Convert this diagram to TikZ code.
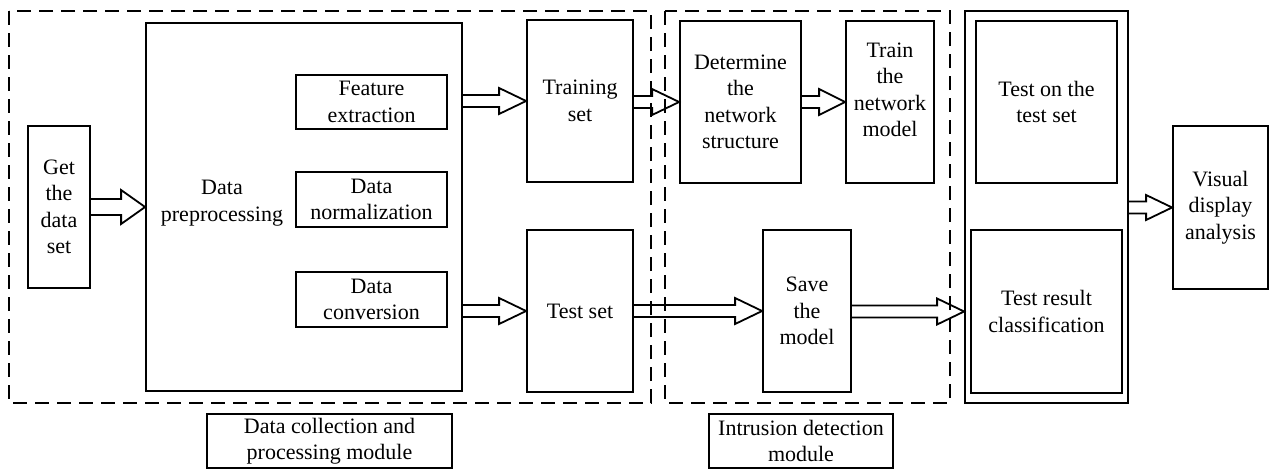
\documentclass[tikz,border=0pt]{standalone}
\usepackage{fontspec}
\setmainfont{Liberation Serif}
\usetikzlibrary{calc}
\tikzset{
  box/.style={draw, line width=1.8pt, inner sep=0pt, align=center, font=\fontsize{22}{26.5}\selectfont},
  txt/.style={inner sep=0pt, align=center, font=\fontsize{22}{26.5}\selectfont},
  dashbox/.style={draw, line width=1.6pt, dash pattern=on 14pt off 8pt},
  arrowline/.style={draw, line width=1.8pt, line join=miter},
}
\newcommand{\blockarrow}[5]{%
  \draw[arrowline] let \p1=(#1), \p2=(#2) in
    (\x1,\y2+#3) -- (\x2-#5,\y2+#3) -- (\x2-#5,\y2+#4) -- (\x2,\y2)
    -- (\x2-#5,\y2-#4) -- (\x2-#5,\y2-#3) -- (\x1,\y2-#3);}
\begin{document}
\begin{tikzpicture}[x=1pt,y=-1pt]
\useasboundingbox (0,0) rectangle (1269,469);
% dashed module frames
\draw[dashbox] (9,11) rectangle (651,403);
\draw[dashbox] (665,11) rectangle (950,403);
% left module
\node[box, minimum width=62pt, minimum height=162pt] (get) at (59,207) {Get\\the\\data\\set};
\node[box, minimum width=316pt, minimum height=368pt] (pre) at (304,207) {};
\node[txt] (pretxt) at (222,203) {Data\\preprocessing};
\node[box, minimum width=151pt, minimum height=54pt] (feat) at (371.5,102) {Feature\\extraction};
\node[box, minimum width=151pt, minimum height=55pt] (norm) at (371.5,199.5) {Data\\normalization};
\node[box, minimum width=151pt, minimum height=55pt] (conv) at (371.5,299.5) {Data\\conversion};
\node[box, minimum width=106pt, minimum height=162pt] (train) at (580,101) {Training\\set};
\node[box, minimum width=106pt, minimum height=162pt] (test) at (580,311) {Test set};
% intrusion module
\node[box, minimum width=121pt, minimum height=162pt] (det) at (740.5,102) {Determine\\the\\network\\structure};
\node[box, minimum width=88pt, minimum height=162pt] (tnet) at (890,102) {};
\node[txt] (tnettxt) at (890,90) {Train\\the\\network\\model};
\node[box, minimum width=88pt, minimum height=162pt] (save) at (807,311) {Save\\the\\model};
% test module
\node[box, minimum width=163pt, minimum height=392pt] (outer) at (1046.5,207) {};
\node[box, minimum width=141pt, minimum height=162pt] (teston) at (1046.5,102) {Test on the\\test set};
\node[box, minimum width=151pt, minimum height=163pt] (result) at (1046.5,311.5) {Test result\\classification};
\node[box, minimum width=95pt, minimum height=163pt] (vis) at (1220.5,207.5) {Visual\\display\\analysis};
% module labels
\node[box, minimum width=245pt, minimum height=54pt] (lab1) at (329.5,441) {Data collection and\\processing module};
\node[box, minimum width=184pt, minimum height=54pt] (lab2) at (801,441) {Intrusion detection\\module};
% arrows
\blockarrow{get.east}{pre.west}{8pt}{17pt}{24pt}
\blockarrow{pre.east}{train.west}{6pt}{13pt}{27pt}
\blockarrow{pre.east}{test.west}{6pt}{13pt}{27pt}
\blockarrow{train.east}{det.west}{6pt}{13pt}{27pt}
\blockarrow{det.east}{tnet.west}{6pt}{13pt}{26pt}
\blockarrow{test.east}{save.west}{6pt}{13pt}{27pt}
\blockarrow{save.east}{outer.west|-result.west}{6pt}{13pt}{27pt}
\blockarrow{outer.east}{vis.west}{6pt}{12.5pt}{26pt}
\end{tikzpicture}
\end{document}
